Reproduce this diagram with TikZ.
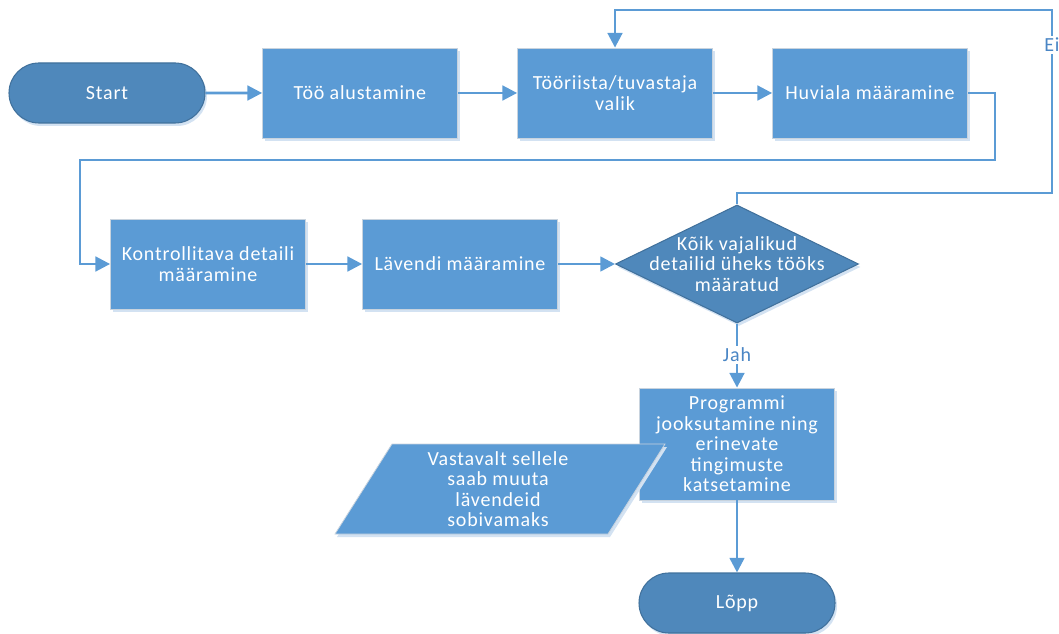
\documentclass[tikz,border=0pt]{standalone}
\usepackage{fontspec}
\setmainfont{Carlito}[LetterSpace=4]
\usetikzlibrary{shapes.misc,shapes.geometric,arrows.meta,shadows}
\definecolor{boxc}{HTML}{5B9BD5}
\definecolor{darkc}{HTML}{4F88BB}
\definecolor{darkb}{HTML}{41719C}
\definecolor{edgec}{HTML}{C8D3DE}
\definecolor{shc}{HTML}{D3E2F2}
\definecolor{linec}{HTML}{5B9BD5}
\definecolor{labc}{HTML}{4A86C5}
\tikzset{
 txt/.style={font=\fontsize{15}{15.4}\selectfont},
 shd/.style={drop shadow={shadow xshift=1.5pt,shadow yshift=-2.25pt,fill=shc,opacity=1}},
 procbox/.style={rectangle, fill=boxc, draw=edgec, line width=0.6pt, minimum width=146.25pt, minimum height=67.5pt, text=white, align=center, txt, inner sep=0pt, shd},
 termbox/.style={rounded rectangle, fill=darkc, draw=darkb, line width=0.8pt, minimum width=147pt, minimum height=45pt, inner sep=0pt, text=white, txt, shd},
 decbox/.style={diamond, fill=darkc, draw=darkb, line width=0.8pt, minimum width=182.25pt, minimum height=88.5pt, inner sep=0pt, shd},
 conn/.style={draw=linec, line width=2pt, -{Triangle[length=11pt,width=11pt]}},
 lab/.style={fill=white, text=labc, txt, inner sep=1.5pt},
 intext/.style={text=white, align=center, txt, inner sep=0pt}
}
\begin{document}
\begin{tikzpicture}[x=0.75pt,y=-0.75pt]
\useasboundingbox (0,0) rectangle (1059,634);
% nodes
\node[termbox] (start) at (107,93) {Start};
\node[procbox] (t1) at (360,93) {Töö alustamine};
\node[procbox] (t2) at (615,93) {Tööriista/tuvastaja\\valik};
\node[procbox] (t3) at (870,93) {Huviala määramine};
\node[procbox] (k) at (208,264) {Kontrollitava detaili\\määramine};
\node[procbox] (lv) at (460,264) {Lävendi määramine};
\node[decbox] (d) at (737,264) {};
\node[intext] (dt) at (d.center) {Kõik vajalikud\\detailid üheks tööks\\määratud};
\node[procbox, minimum height=84pt] (p) at (737,444) {Programmi\\jooksutamine ning\\erinevate\\tingimuste\\katsetamine};
% parallelogram
\coordinate (q1) at (392,444);
\coordinate (q2) at (665,444);
\coordinate (q3) at (608,534);
\coordinate (q4) at (335,534);
\fill[shc] ([shift={(2,3)}]q1) -- ([shift={(2,3)}]q2) -- ([shift={(2,3)}]q3) -- ([shift={(2,3)}]q4) -- cycle;
\draw[fill=boxc, draw=edgec, line width=0.6pt] (q1) -- (q2) -- (q3) -- (q4) -- cycle;
\node[intext] (pt) at (498,489) {Vastavalt sellele\\saab muuta\\lävendeid\\sobivamaks};
\node[termbox] (end) at (737,603) {Lõpp};
% connectors
\coordinate (r1) at (995,160);
\coordinate (l1) at (80,160);
\coordinate (e1) at (1052,193);
\coordinate (e2) at (1052,10);
\draw[conn] (start) -- (t1);
\draw[conn] (t1) -- (t2);
\draw[conn] (t2) -- (t3);
\draw[conn] (t3.east) -| (r1) -- (l1) |- (k.west);
\draw[conn] (k) -- (lv);
\draw[conn] (lv) -- (d);
\draw[conn] (d.north) |- (e1) -- node[lab, pos=0.81] {Ei} (e2) -| (t2.north);
\draw[conn] (d.south) -- node[lab, pos=0.49] {Jah} (p.north);
\draw[conn] (p.south) -- (end.north);
\end{tikzpicture}
\end{document}
